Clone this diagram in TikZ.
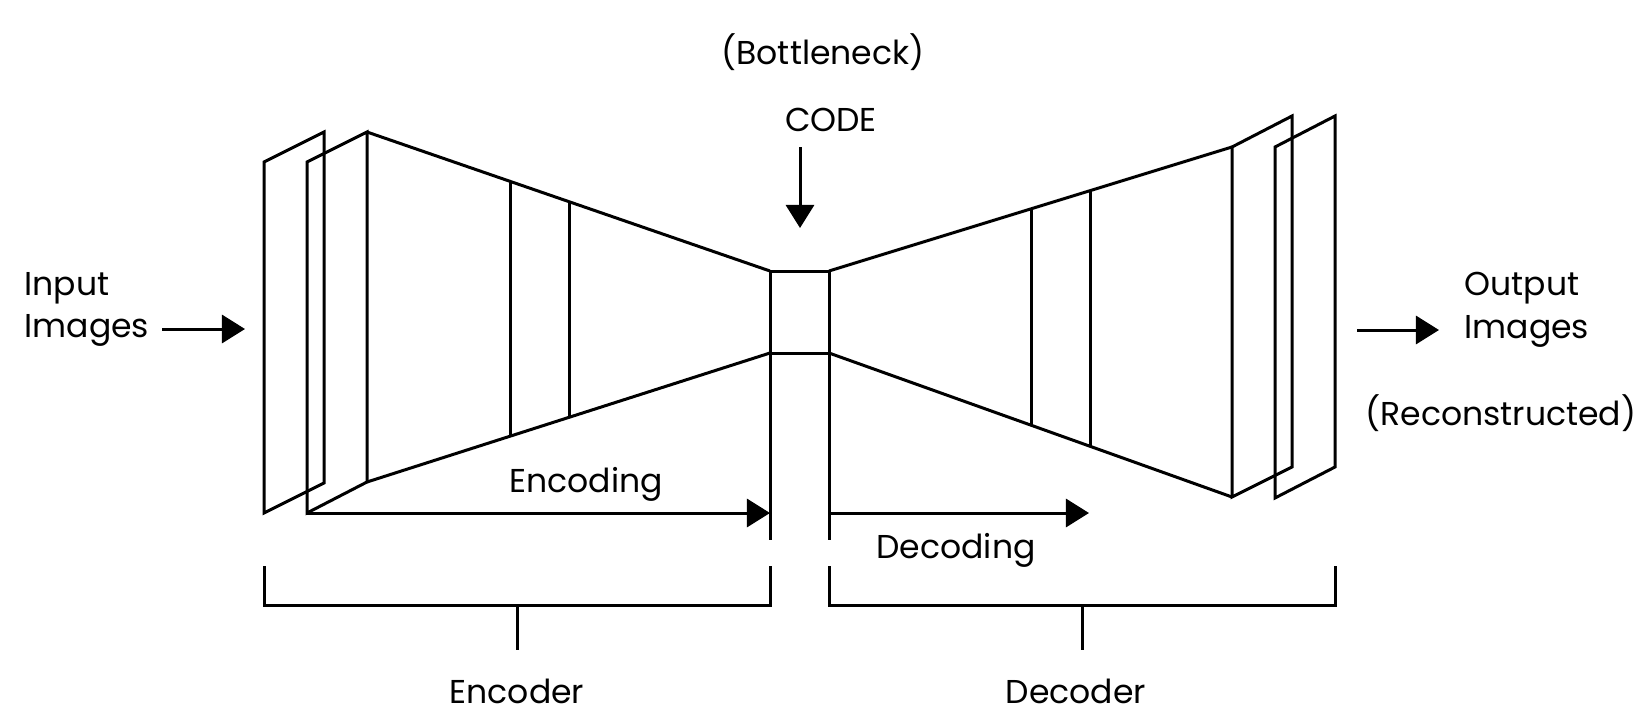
\documentclass[tikz,border=0pt]{standalone}
\usepackage{fontspec}
\setmainfont{Poppins}
\usetikzlibrary{arrows.meta,positioning}

\tikzset{
  lbl/.style={inner sep=0pt, font=\fontsize{9.4}{12}\selectfont},
  arr/.style={-{Triangle[length=0.23cm,width=0.28cm]}},
}

\begin{document}
\begin{tikzpicture}[x=0.01cm, y=-0.01cm, line width=0.03cm]
\useasboundingbox (0,0) rectangle (1650,727);

% input side planes
\draw (264,162) -- (324,132) -- (324,483) -- (264,513) -- cycle;
\draw (307,162) -- (367,132) -- (367,482) -- (307,513) -- cycle;

% encoder
\coordinate (enctop) at (367,132);
\coordinate (encbot) at (367,482);
\coordinate (boxtl) at (770,271);
\coordinate (boxbl) at (770,353);
\coordinate (boxtr) at (829,271);
\coordinate (boxbr) at (829,353);
\draw (enctop) -- (boxtl);
\draw (encbot) -- (boxbl);
\draw (510,181) -- (510,436);
\draw (569,202) -- (569,417);

% code box
\draw (boxtl) -- (boxtr);
\draw (boxbl) -- (boxbr);
\draw (boxtl) -- (770,540);
\draw (boxtr) -- (829,540);

% decoder
\coordinate (dectop) at (1232,147);
\coordinate (decbot) at (1232,497);
\draw (boxtr) -- (dectop);
\draw (boxbr) -- (decbot);
\draw (1031,209) -- (1031,425);
\draw (1090,190) -- (1090,446);

% output side planes
\draw (dectop) -- (1292,116) -- (1292,467) -- (decbot) -- cycle;
\draw (1275,147) -- (1335,116) -- (1335,467) -- (1275,498) -- cycle;

% labels
\node[lbl, anchor=base west] (input) at (23,295) {Input};
\node[lbl, below=0.42cm of input.base west, anchor=base west] (inimg) {Images};
\node[lbl, anchor=base west] (output) at (1463,295) {Output};
\node[lbl, below=0.43cm of output.base west, anchor=base west] (outimg) {Images};
\node[lbl, anchor=base] (recon) at (1501,425) {(Reconstructed)};
\node[lbl, anchor=base] (code) at (831,131) {CODE};
\node[lbl, anchor=base] (bneck) at (823,64) {(Bottleneck)};
\node[lbl, anchor=base] (encoding) at (586,492) {Encoding};
\node[lbl, anchor=base] (decoding) at (956,558) {Decoding};
\node[lbl, anchor=base] (encoder) at (517,703) {Encoder};
\node[lbl, anchor=base] (decoder) at (1076,703) {Decoder};

% arrows
\coordinate (inA) at (162,329);
\coordinate (inB) at (245,329);
\coordinate (outA) at (1357,330);
\coordinate (outB) at (1439,330);
\coordinate (codeA) at (800,147);
\coordinate (codeB) at (800,228);
\coordinate (encA) at (307,513);
\coordinate (encB) at (770,513);
\coordinate (decA) at (829,513);
\coordinate (decB) at (1089,513);
\draw[arr] (inA) -- (inB);
\draw[arr] (outA) -- (outB);
\draw[arr] (codeA) -- (codeB);
\draw[arr] (encA) -- (encB);
\draw[arr] (decA) -- (decB);

% brackets
\draw (264,566) -- (264,605) -- (770,605) -- (770,566);
\draw (517,605) -- (517,650);
\draw (829,566) -- (829,605) -- (1335,605) -- (1335,566);
\draw (1082,605) -- (1082,650);
\end{tikzpicture}
\end{document}
